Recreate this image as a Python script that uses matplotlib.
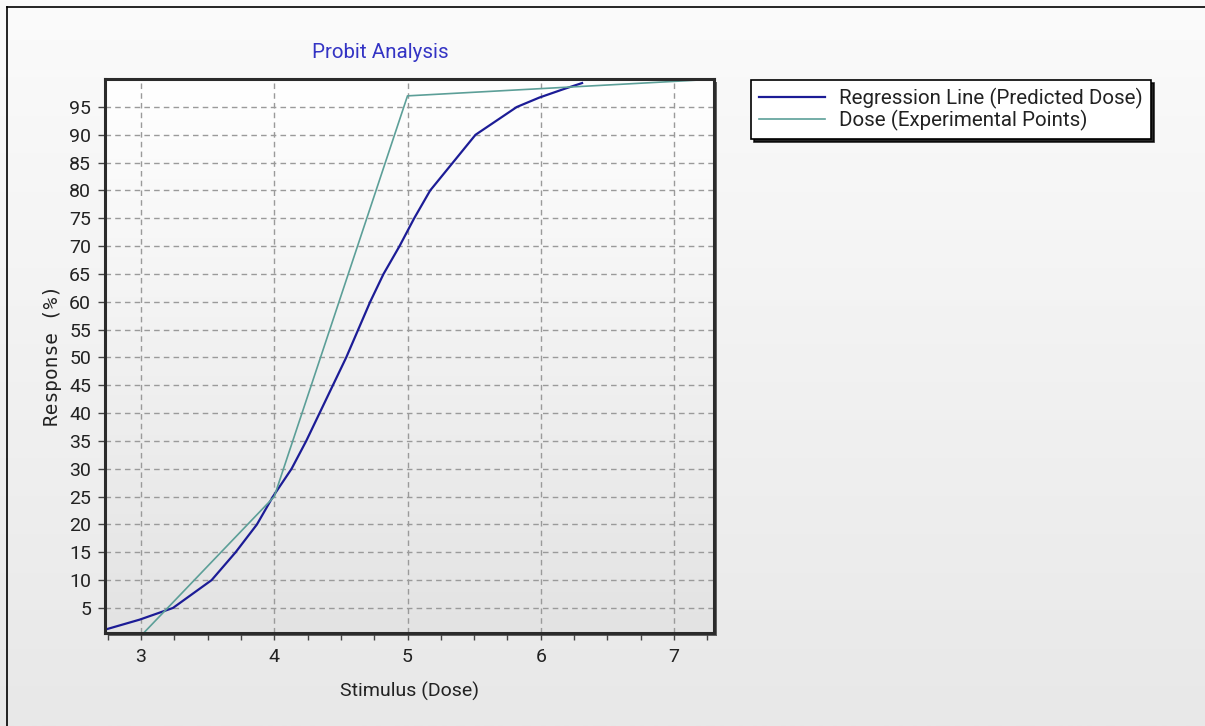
import numpy as np
import matplotlib
matplotlib.use("Agg")
import matplotlib.pyplot as plt
from matplotlib.patches import Rectangle
from matplotlib.ticker import MultipleLocator
from matplotlib.colors import LinearSegmentedColormap

# ---- data ----
reg_x = [2.73, 2.99, 3.24, 3.53, 3.71, 3.87, 3.99, 4.13, 4.24, 4.34, 4.44, 4.54,
         4.63, 4.72, 4.82, 4.94, 5.05, 5.17, 5.34, 5.51, 5.82, 5.99, 6.17, 6.31]
reg_y = [1.1, 2.9, 5.0, 10.0, 15.0, 20.0, 25.0, 30.0, 35.0, 40.0, 45.0, 50.0,
         55.0, 60.0, 65.0, 70.0, 75.0, 80.0, 85.0, 90.0, 95.0, 96.7, 98.2, 99.3]
exp_x = [3.0, 4.0, 5.0, 6.0, 7.0, 7.3]
exp_y = [0.0, 25.0, 97.0, 98.3, 99.6, 100.0]
y_ticks = list(range(5, 100, 5))
x_ticks = [3, 4, 5, 6, 7]
title = "Probit Analysis"
xlabel = "Stimulus (Dose)"
ylabel = "Response (%)"
labels = ["Regression Line (Predicted Dose)", "Dose (Experimental Points)"]

FONT = "Roboto"
W, H = 1205, 726
fig = plt.figure(figsize=(W / 100, H / 100), dpi=100)

# figure background gradient
bg = fig.add_axes([0, 0, 1, 1], zorder=-10)
grad = np.linspace(0, 1, 256).reshape(-1, 1)
cm_fig = LinearSegmentedColormap.from_list("f", ["#fbfbfb", "#e8e8e8"])
bg.imshow(grad, aspect="auto", cmap=cm_fig, extent=[0, 1, 0, 1], origin="upper")
bg.set_xlim(0, 1); bg.set_ylim(0, 1)
bg.axis("off")
bg.plot([7 / W, 7 / W], [0, 1 - 7 / H], color="black", lw=1.2)
bg.plot([7 / W, 1], [1 - 7 / H, 1 - 7 / H], color="black", lw=1.2)

# axes
L, R, T, B = 105, 714, 79, 633
ax_rect = [L / W, 1 - B / H, (R - L) / W, (B - T) / H]
bg.add_patch(Rectangle((ax_rect[0] + 3 / W, ax_rect[1] - 3 / H), ax_rect[2], ax_rect[3],
                       facecolor="#404040", edgecolor="none", alpha=0.8))
ax = fig.add_axes(ax_rect)
cm_ax = LinearSegmentedColormap.from_list("a", ["#ffffff", "#e3e3e3"])
ax.imshow(grad, aspect="auto", cmap=cm_ax, extent=[0, 1, 0, 1], origin="upper",
          transform=ax.transAxes, zorder=0)

ax.plot(reg_x, reg_y, color="#1c1c96", lw=1.6, zorder=3, label=labels[0])
ax.plot(exp_x, exp_y, color="#5c9f98", lw=1.2, zorder=3, label=labels[1])

ax.set_xlim(2.73, 7.3)
ax.set_ylim(0.5, 100.03)
ax.set_xticks(x_ticks)
ax.xaxis.set_minor_locator(MultipleLocator(0.25))
ax.set_yticks(y_ticks)
ax.grid(True, which="major", color="#9a9a9a", linestyle=(0, (4, 3)), lw=1.0, zorder=1)
for s in ax.spines.values():
    s.set_linewidth(2.2)
    s.set_color("#2b2b2b")
    s.set_zorder(5)
ax.tick_params(axis="both", which="both", direction="out", length=5, width=1,
               color="#444444", labelsize=14, top=False, right=False)
ax.tick_params(axis="y", which="major", pad=5)
ax.tick_params(axis="x", which="major", pad=6)
for lbl in ax.get_xticklabels() + ax.get_yticklabels():
    lbl.set_fontfamily(FONT)
    lbl.set_color("#222222")

ax.set_xlabel(xlabel, fontsize=14, family=FONT, color="#222222", labelpad=11)
ax.set_ylabel(ylabel, fontsize=14, family="DejaVu Sans Mono", color="#222222", labelpad=5)

fig.text(380 / W, 1 - 52 / H, title, ha="center", va="center", fontsize=14.8,
         color="#3434c4", family=FONT)

leg = ax.legend(loc="upper left", bbox_to_anchor=(751 / W, 1 - 80 / H),
                bbox_transform=fig.transFigure, fancybox=False, frameon=True,
                shadow={"color": "black", "alpha": 0.85}, borderpad=0.4,
                borderaxespad=0, handlelength=3.2, handletextpad=0.7,
                labelspacing=0.03, prop={"family": FONT, "size": 14.8})
leg.get_frame().set_edgecolor("black")
leg.get_frame().set_linewidth(1.2)
leg.get_frame().set_facecolor("white")
leg.get_frame().set_alpha(1.0)
for t in leg.get_texts():
    t.set_color("#222222")

fig.savefig("out.png", dpi=100)
